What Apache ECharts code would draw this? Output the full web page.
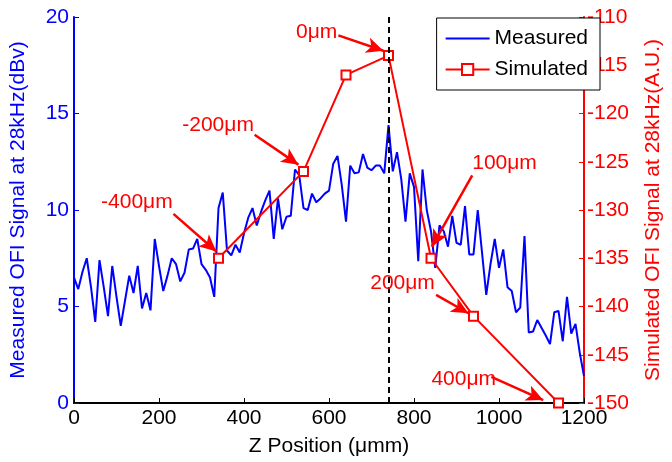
<!DOCTYPE html>
<html>
<head>
<meta charset="utf-8">
<script src="https://cdn.jsdelivr.net/npm/echarts@6/dist/echarts.min.js"></script>
<style>
html,body{margin:0;padding:0;background:#fff;}
#chart{width:672px;height:462px;}
</style>
</head>
<body>
<div id="chart"></div>
<script>
// Measured OFI signal (left axis, dBV) vs Z position (µm)
var measuredZ = [0,10,20,30,40,50,60,70,80,90,100,110,120,130,140,150,160,170,180,190,
  200,210,220,230,240,250,260,270,280,290,300,310,320,330,340,350,360,370,380,390,
  400,410,420,430,440,450,460,470,480,490,500,510,520,530,540,550,560,570,580,590,
  600,610,620,630,640,650,660,670,680,690,700,710,720,730,740,750,760,770,780,790,
  800,810,820,830,840,850,860,870,880,890,900,910,920,930,940,950,960,970,980,990,
  1000,1010,1020,1030,1040,1050,1060,1070,1080,1090,1100,1110,1120,1130,1140,1150,1160,1170,1180,1190,1200];
var measuredSignal = [6.5,5.9,6.8,7.5,6.0,4.2,7.4,6.0,4.5,7.1,5.5,4.0,5.3,6.6,5.7,7.1,4.9,5.7,4.8,8.5,
  7.1,5.8,6.6,7.5,7.2,6.3,6.75,7.95,8.0,8.5,7.2,6.9,6.5,5.5,10.1,10.9,7.9,7.65,8.2,7.8,
  8.8,9.6,10.1,9.2,9.9,10.5,11.0,8.5,10.6,9.0,9.65,9.7,12.1,11.8,10.1,10.0,10.85,10.4,10.6,10.85,
  11.0,12.4,12.8,11.3,9.4,12.3,11.9,11.95,12.9,12.2,12.06,12.3,12.3,11.9,14.4,12.0,13.0,11.6,9.4,11.9,
  11.2,7.35,12.1,10.0,8.9,7.0,9.2,8.9,8.1,9.7,8.3,8.2,10.2,7.7,7.7,10.0,7.8,5.6,7.2,8.5,
  7.0,7.96,6.0,5.8,4.7,4.95,8.65,3.65,3.7,4.3,3.9,3.5,3.05,4.7,4.77,3.2,5.5,3.6,4.1,2.6,1.4];

// Simulated OFI signal (right axis, A.U.)
var simulatedZ = [340,540,640,740,840,940,1140];
var simulatedSignal = [-135,-126,-116,-114,-135,-141,-150];

// Focus marker position
var focusZ = 740;

// Annotations: label text, label anchor (z, signal), arrow start, arrow tip (data units, right axis)
var annotationText = ['-400\u03bcm','-200\u03bcm','0\u03bcm','100\u03bcm','200\u03bcm','400\u03bcm'];
var annotationLabelPos = [[148,-129.2],[339,-121.2],[571,-111.6],[1013,-125.2],[773,-137.6],[917,-147.5]];
var annotationArrowFrom = [[234,-130.4],[425,-122.2],[622,-111.9],[937,-126.4],[852,-138.8],[982,-147.3]];
var annotationArrowTo = [[335,-134.3],[528,-125.3],[728,-113.5],[842,-133.8],[928,-140.7],[1104,-149.7]];

var xTicks = {min:0, max:1200, interval:200};
var leftTicks = {min:0, max:20, interval:5};
var rightTicks = {min:-150, max:-110, interval:5};

var FONT = '"Liberation Sans", Arial, sans-serif';
var BLUE = '#0000ff', RED = '#ff0000';
var FS = 21;

var measuredData = measuredZ.map(function(z,i){return [z, measuredSignal[i]];});
var simulatedData = simulatedZ.map(function(z,i){return [z, simulatedSignal[i]];});
var plain = function(v){ return String(v); };

var chart = echarts.init(document.getElementById('chart'), null, {renderer:'canvas'});
chart.setOption({
  animation: false,
  backgroundColor: '#fff',
  textStyle: {fontFamily: FONT},
  grid: {left: 68, right: 70, top: 17, bottom: 58, containLabel: false},
  legend: {
    orient: 'vertical', right: 72, top: 18,
    backgroundColor: '#fff', borderColor: '#000', borderWidth: 1,
    padding: [10, 12, 10, 8], itemGap: 10, itemWidth: 44, itemHeight: 14,
    textStyle: {fontFamily: FONT, fontSize: FS, color: '#000'},
    data: [
      {name: 'Measured', itemStyle: {color: 'rgba(0,0,0,0)', borderWidth: 0}},
      'Simulated'
    ]
  },
  xAxis: {
    type: 'value', min: xTicks.min, max: xTicks.max, interval: xTicks.interval,
    name: 'Z Position (\u03bcmm)', nameLocation: 'middle', nameGap: 33,
    nameTextStyle: {fontFamily: FONT, fontSize: FS, color: '#000'},
    axisLine: {show: true, lineStyle: {color: '#000', width: 2}},
    axisTick: {show: true, inside: true, length: 5, lineStyle: {color: '#000', width: 1}},
    axisLabel: {fontFamily: FONT, fontSize: FS, color: '#000', margin: 5, formatter: plain},
    splitLine: {show: false}
  },
  yAxis: [{
    type: 'value', position: 'left', min: leftTicks.min, max: leftTicks.max, interval: leftTicks.interval,
    name: 'Measured OFI Signal at 28kHz(dBv)', nameLocation: 'middle', nameGap: 45, nameRotate: 90,
    nameTextStyle: {fontFamily: FONT, fontSize: FS, color: BLUE},
    axisLine: {show: true, lineStyle: {color: BLUE, width: 2}},
    axisTick: {show: true, inside: true, length: 5, lineStyle: {color: BLUE}},
    axisLabel: {fontFamily: FONT, fontSize: FS, color: BLUE, margin: 5, formatter: plain},
    splitLine: {show: false}
  }, {
    type: 'value', position: 'right', min: rightTicks.min, max: rightTicks.max, interval: rightTicks.interval,
    name: 'Simulated OFI Signal at 28kHz(A.U.)', nameLocation: 'middle', nameGap: 59, nameRotate: 90,
    nameTextStyle: {fontFamily: FONT, fontSize: FS, color: RED},
    axisLine: {show: true, lineStyle: {color: RED, width: 2}},
    axisTick: {show: true, inside: true, length: 5, lineStyle: {color: RED}},
    axisLabel: {fontFamily: FONT, fontSize: FS, color: RED, margin: 3, formatter: plain},
    splitLine: {show: false}
  }],
  series: [{
    name: 'Measured', type: 'line', yAxisIndex: 0, data: measuredData,
    symbol: 'none', lineStyle: {color: BLUE, width: 2}, itemStyle: {color: BLUE},
    z: 2,
    markLine: {
      silent: true, symbol: ['none','none'], label: {show: false},
      lineStyle: {color: '#000', type: [6, 4], width: 2},
      data: [{xAxis: focusZ}]
    }
  }, {
    name: 'Simulated', type: 'line', yAxisIndex: 1, data: simulatedData,
    symbol: 'rect', symbolSize: 9, showSymbol: true,
    lineStyle: {color: RED, width: 2},
    itemStyle: {color: '#fff', borderColor: RED, borderWidth: 2},
    z: 3,
    markLine: {
      silent: true, symbol: ['none','arrow'], symbolSize: [12, 17], label: {show: false},
      lineStyle: {color: RED, type: 'solid', width: 2.5},
      data: annotationArrowFrom.map(function(p, i){
        return [{coord: p}, {coord: annotationArrowTo[i]}];
      })
    },
    markPoint: {
      silent: true, symbol: 'circle', symbolSize: 1,
      itemStyle: {color: 'rgba(0,0,0,0)', borderWidth: 0},
      label: {show: true, position: 'inside', color: RED, fontFamily: FONT, fontSize: FS,
        formatter: function(p){ return p.name; }},
      data: annotationLabelPos.map(function(p, i){
        return {name: annotationText[i], coord: p};
      })
    }
  }]
});
</script>
</body>
</html>
